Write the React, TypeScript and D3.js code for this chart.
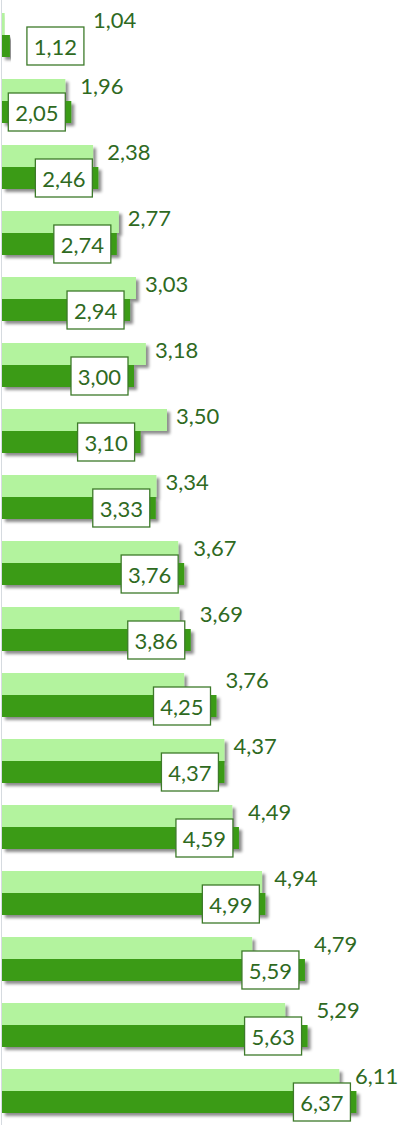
import { useMemo } from 'react';
import * as d3 from 'd3';

const CATEGORIES = ['1', '2', '3', '4', '5', '6', '7', '8', '9', '10', '11', '12', '13', '14', '15', '16', '17'];
const SERIES_LIGHT = [1.04, 1.96, 2.38, 2.77, 3.03, 3.18, 3.5, 3.34, 3.67, 3.69, 3.76, 4.37, 4.49, 4.94, 4.79, 5.29, 6.11];
const SERIES_DARK = [1.12, 2.05, 2.46, 2.74, 2.94, 3.0, 3.1, 3.33, 3.76, 3.86, 4.25, 4.37, 4.59, 4.99, 5.59, 5.63, 6.37];
const X_DOMAIN: [number, number] = [1, 7];

const WIDTH = 398;
const HEIGHT = 1125;
const LIGHT = '#b3f39e';
const DARK = '#3a9b17';
const TEXT = '#2f6a1f';
const FONT = 'Lato, "Open Sans", sans-serif';
const BOX_W = 57;
const BOX_H = 38;

const fmt = (v: number) => v.toFixed(2).replace('.', ',');

export default function App() {
  const x = useMemo(() => d3.scaleLinear().domain(X_DOMAIN).range([2, WIDTH]), []);
  const y = useMemo(
    () => d3.scaleBand<string>().domain(CATEGORIES).range([2, 1124]).paddingInner(1 / 3).paddingOuter(1 / 6),
    []
  );
  const barH = y.bandwidth() / 2;

  return (
    <svg width={WIDTH} height={HEIGHT} style={{ position: 'absolute', left: 0, top: 0, background: '#fff' }}>
      <defs>
        <filter id="shadow" x="-5%" y="-30%" width="115%" height="180%">
          <feDropShadow dx="3" dy="3" stdDeviation="1.4" floodColor="#000" floodOpacity="0.45" />
        </filter>
      </defs>
      <line x1={1.5} x2={1.5} y1={0} y2={HEIGHT} stroke="#d6dbe0" strokeWidth={1} />
      {CATEGORIES.map((c, i) => {
        const top = y(c)!;
        const xl = x(SERIES_LIGHT[i]);
        const xd = x(SERIES_DARK[i]);
        let boxX = xd - 6 - BOX_W;
        if (boxX < 5) boxX = xd + 17;
        const boxY = top + barH + barH / 2 - BOX_H / 2;
        const labelX = Math.min(Math.max(xl, xd, boxX + BOX_W) + 9, WIDTH - 43);
        return (
          <g key={c}>
            <rect x={x(X_DOMAIN[0])} y={top} width={xl - x(X_DOMAIN[0])} height={barH} fill={LIGHT} filter="url(#shadow)" />
            <rect x={x(X_DOMAIN[0])} y={top + barH} width={xd - x(X_DOMAIN[0])} height={barH} fill={DARK} filter="url(#shadow)" />
            <rect x={boxX} y={boxY} width={BOX_W} height={BOX_H} fill="#fff" stroke="#3d7a2a" strokeWidth={1.3} />
            <text
              x={boxX + BOX_W / 2}
              y={boxY + BOX_H / 2}
              textAnchor="middle"
              dominantBaseline="central"
              fontFamily={FONT}
              fontSize={22}
              fill={TEXT}
            >
              {fmt(SERIES_DARK[i])}
            </text>
            <text
              x={labelX}
              y={top + 6}
              dominantBaseline="central"
              fontFamily={FONT}
              fontSize={22}
              fill={TEXT}
            >
              {fmt(SERIES_LIGHT[i])}
            </text>
          </g>
        );
      })}
    </svg>
  );
}
